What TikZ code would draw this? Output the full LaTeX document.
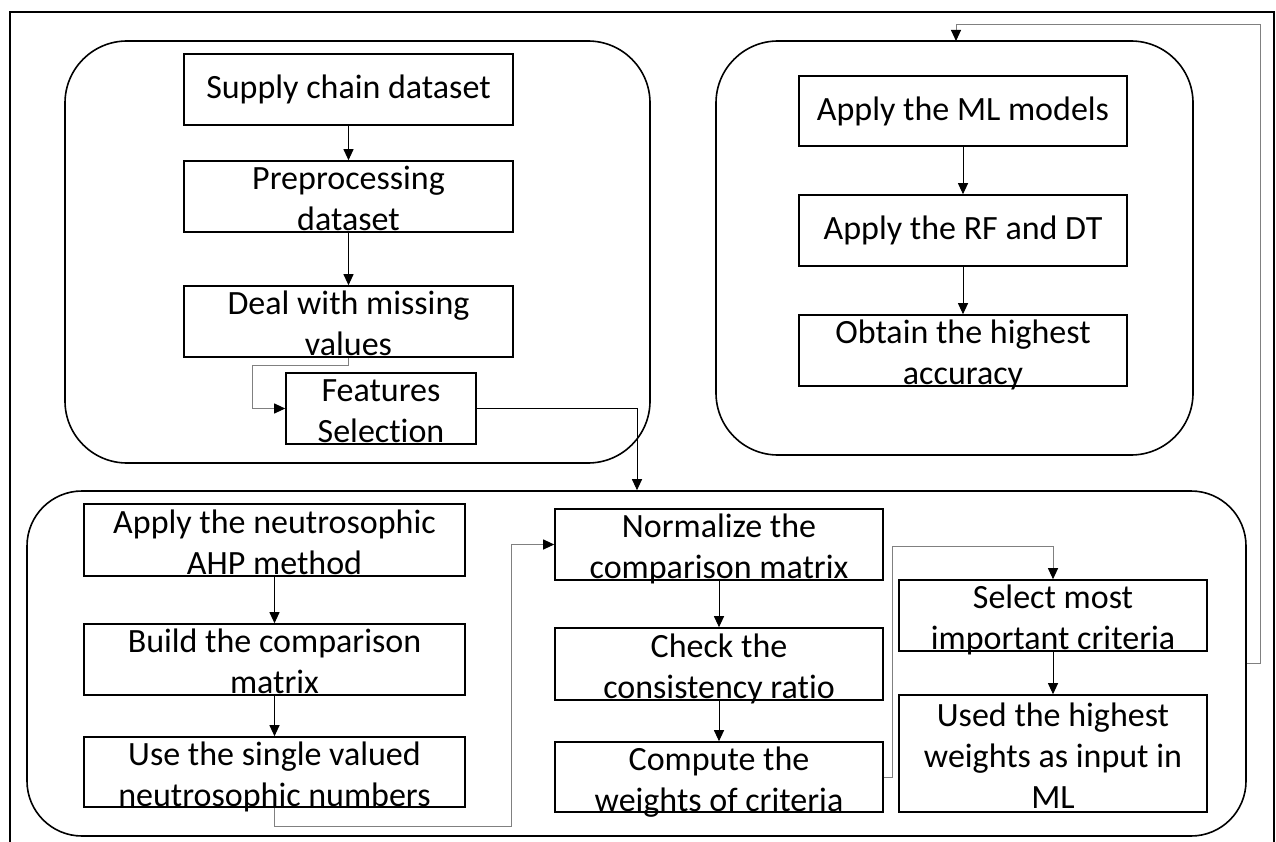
\documentclass[tikz,border=0pt]{standalone}
\usepackage{fontspec}
\setmainfont{Carlito}[Ligatures=NoCommon]
\usetikzlibrary{arrows.meta}
\definecolor{lgray}{RGB}{128,128,128}
\newcommand\myLines[1]{\raisebox{-12pt}[0pt][0pt]{\begin{tabular}{@{}c@{}}#1\end{tabular}}}
\begin{document}
\begin{tikzpicture}[x=1pt,y=-1pt,
  box/.style={draw, line width=1.6pt, inner sep=0pt, align=center,
    font=\fontsize{34}{41}\selectfont},
  grp/.style={draw, line width=1.6pt, inner sep=0pt},
  arr/.style={line width=1pt, -{Triangle[length=11pt,width=10pt,color=black]}},
  arrg/.style={arr, draw=lgray},
]
\useasboundingbox (0,0) rectangle (1276,842);
% outer frame (open at bottom)
\draw[line width=1.8pt] (10,842) -- (10,12) -- (1274,12) -- (1274,842);

% groups
\node[grp, rounded corners=62pt, minimum width=585pt, minimum height=422pt] (gL) at (357.5,252) {};
\node[grp, rounded corners=62pt, minimum width=477pt, minimum height=414pt] (gR) at (954.5,248) {};
\node[grp, rounded corners=55pt, minimum width=1219pt, minimum height=345pt] (gB) at (636.5,663.5) {};

% top-left boxes
\node[box, minimum width=329pt, minimum height=71pt] (supply) at (348.5,89.5) {Supply chain dataset};
\node[box, minimum width=329pt, minimum height=71pt] (prep) at (348.5,196.5) {\myLines{Preprocessing\\dataset}};
\node[box, minimum width=329pt, minimum height=71pt] (deal) at (348.5,321.5) {\myLines{Deal with missing\\values}};
\node[box, minimum width=190pt, minimum height=71pt] (feat) at (381,408.5) {\myLines{Features\\Selection}};

% top-right boxes
\node[box, minimum width=328pt, minimum height=70pt] (ml) at (963,111) {Apply the ML models};
\node[box, minimum width=328pt, minimum height=71pt] (rf) at (963,230.5) {Apply the RF and DT};
\node[box, minimum width=328pt, minimum height=71pt] (acc) at (963,350.5) {\myLines{Obtain the highest\\accuracy}};

% bottom boxes
\node[box, minimum width=381pt, minimum height=72pt] (ahp) at (274.5,540) {\myLines{Apply the neutrosophic\\AHP method}};
\node[box, minimum width=381pt, minimum height=71pt] (build) at (274.5,659.5) {\myLines{Build the comparison\\matrix}};
\node[box, minimum width=381pt, minimum height=70pt] (use) at (274.5,772) {\myLines{Use the single valued\\neutrosophic numbers}};
\node[box, minimum width=328pt, minimum height=71pt] (norm) at (719,544.5) {\myLines{Normalize the\\comparison matrix}};
\node[box, minimum width=328pt, minimum height=72pt] (check) at (719,664) {\myLines{Check the\\consistency ratio}};
\node[box, minimum width=328pt, minimum height=70pt] (comp) at (719,777) {\myLines{Compute the\\weights of criteria}};
\node[box, minimum width=308pt, minimum height=71pt] (sel) at (1053,615.5) {\myLines{Select most\\important criteria}};
\node[box, minimum width=308pt, minimum height=117pt] (used) at (1053,753.5) {\myLines{Used the highest\\weights as input in\\ML}};

% bend coordinates
\coordinate (b1) at (252,365);
\coordinate (b2) at (637,0);
\coordinate (b3) at (511,826);
\coordinate (b4) at (892,546);
\coordinate (b5) at (1260,25);
\coordinate (b6) at (956,41);

% connectors
\draw[arr] (supply) -- (prep);
\draw[arr] (prep) -- (deal);
\draw[arrg] (deal.south) |- (b1) |- (feat.west);
\draw[arr] (feat.east) -| (b2 |- gB.north);
\draw[arr] (ml) -- (rf);
\draw[arr] (rf) -- (acc);
\draw[arr] (ahp) -- (build);
\draw[arr] (build) -- (use);
\draw[arrg] (use.south) |- (b3) |- (norm.west);
\draw[arr] (norm) -- (check);
\draw[arr] (check) -- (comp);
\draw[arrg] (comp.east) -| (b4) -| (sel.north);
\draw[arr] (sel) -- (used);
\draw[arrg] (gB.east) -| (b5) -| (b6);
\end{tikzpicture}
\end{document}
